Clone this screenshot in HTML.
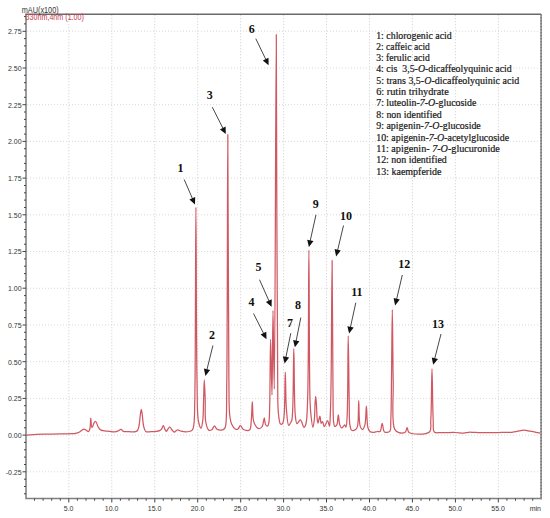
<!DOCTYPE html><html><head><meta charset="utf-8"><style>html,body{margin:0;padding:0;background:#fff;}svg{display:block;}</style></head><body>
<svg width="550" height="518" viewBox="0 0 550 518">
<rect width="550" height="518" fill="#fff"/>
<path d="M68.85 15.25V497.5M111.8 15.25V497.5M154.75 15.25V497.5M197.7 15.25V497.5M240.65 15.25V497.5M283.6 15.25V497.5M326.55 15.25V497.5M369.5 15.25V497.5M412.45 15.25V497.5M455.4 15.25V497.5M498.35 15.25V497.5" stroke="#cccccc" stroke-width="1" stroke-dasharray="1 2" fill="none"/>
<path d="M27 471.81H540.1M27 435.1H540.1M27 398.39H540.1M27 361.68H540.1M27 324.96H540.1M27 288.25H540.1M27 251.54H540.1M27 214.83H540.1M27 178.11H540.1M27 141.4H540.1M27 104.69H540.1M27 67.98H540.1M27 31.26H540.1" stroke="#d9d9d9" stroke-width="1" stroke-dasharray="1 2" fill="none"/>
<path d="M26.00 435.20C27.33 435.10 28.52 435.03 30.00 434.90C31.84 434.74 33.83 434.44 36.20 434.30C39.38 434.11 43.56 434.11 47.40 434.05C51.48 433.99 56.44 433.99 60.00 433.95C62.61 433.92 64.69 433.91 66.80 433.85C68.65 433.80 70.44 433.76 72.00 433.65C73.28 433.56 74.34 433.53 75.50 433.30C76.70 433.06 77.86 432.78 79.10 432.20C80.61 431.49 82.42 429.21 83.80 429.10C84.80 429.02 85.71 429.85 86.50 430.30C87.18 430.69 87.77 431.70 88.30 431.60C88.89 431.49 89.41 430.42 89.80 429.30C90.59 427.03 90.45 418.10 90.80 418.10C91.12 418.10 91.09 427.05 91.80 427.30C92.08 427.40 92.50 426.77 92.80 426.30C93.25 425.58 93.38 424.05 93.90 423.20C94.35 422.46 95.03 421.31 95.60 421.40C96.53 421.55 97.35 425.76 98.40 427.30C99.20 428.48 99.96 429.52 101.00 430.10C102.00 430.66 103.22 430.61 104.50 430.80C106.04 431.03 107.90 431.12 109.60 431.30C111.30 431.48 113.22 432.00 114.70 431.90C115.87 431.82 116.78 431.50 117.80 431.10C118.91 430.66 120.15 429.17 121.10 429.30C121.95 429.41 122.29 430.96 123.30 431.40C124.70 432.00 127.11 431.65 129.10 431.70C131.20 431.75 134.12 432.13 135.60 431.70C136.47 431.45 136.98 431.16 137.50 430.50C138.25 429.54 138.59 427.86 139.00 426.00C139.63 423.16 139.85 418.06 140.30 415.00C140.62 412.79 140.97 409.30 141.30 409.30C141.63 409.30 141.98 412.79 142.30 415.00C142.75 418.06 142.84 423.00 143.60 426.00C144.16 428.19 144.50 430.58 145.80 431.50C147.01 432.35 148.98 431.78 150.90 431.70C153.42 431.59 157.81 431.32 159.60 430.60C160.53 430.23 160.94 429.87 161.50 429.20C162.23 428.32 162.74 425.49 163.30 425.50C163.84 425.51 164.28 427.96 164.80 429.00C165.25 429.89 165.68 431.37 166.20 431.40C166.74 431.43 167.38 429.75 168.00 429.00C168.58 428.29 169.19 426.97 169.80 427.00C170.52 427.04 171.23 429.12 172.00 430.00C172.70 430.80 173.35 432.03 174.20 432.10C175.18 432.18 176.42 429.93 177.60 429.80C178.73 429.68 179.67 430.90 181.10 431.20C183.16 431.64 186.86 431.93 188.90 431.50C190.34 431.20 191.59 430.76 192.40 429.80C193.32 428.71 193.43 427.26 193.80 425.00C194.62 419.95 194.52 412.26 194.80 400.00C195.58 365.98 195.52 207.30 195.90 207.30C196.26 207.30 196.20 342.13 197.00 380.00C197.39 398.57 196.87 413.69 198.50 421.50C199.17 424.73 200.40 428.16 201.10 428.10C201.86 428.04 202.39 423.32 202.80 420.00C203.44 414.84 203.35 406.68 203.60 400.00C203.85 393.31 204.03 379.90 204.30 379.90C204.57 379.90 204.97 393.19 205.20 400.00C205.44 407.04 204.70 416.01 205.70 421.50C206.35 425.08 207.20 429.17 208.70 430.10C209.59 430.65 210.99 430.26 211.90 429.70C212.99 429.04 213.63 425.91 214.50 425.90C215.33 425.89 215.87 428.60 217.00 429.30C218.18 430.03 220.17 430.30 221.50 430.10C222.66 429.92 223.89 429.35 224.60 428.50C225.37 427.58 225.47 426.64 225.80 424.60C226.89 417.85 226.52 400.85 226.80 380.00C227.45 331.09 227.45 134.50 227.80 134.50C228.15 134.50 228.29 335.14 228.90 380.00C229.13 396.94 228.79 407.18 229.70 415.00C230.17 419.01 230.47 421.51 231.60 424.00C232.55 426.09 234.17 428.60 235.50 429.20C236.32 429.57 237.25 429.42 238.00 429.00C238.98 428.45 239.66 425.49 240.50 425.50C241.36 425.51 241.80 428.51 243.10 429.30C244.63 430.23 248.10 431.13 249.50 430.10C251.27 428.80 250.85 423.88 251.30 420.00C251.90 414.82 251.99 401.70 252.30 401.70C252.59 401.70 252.66 414.38 253.10 418.00C253.32 419.83 253.48 420.82 253.90 422.10C254.30 423.31 254.92 424.50 255.50 425.50C256.00 426.36 256.40 427.30 257.10 427.80C257.78 428.28 258.80 428.66 259.60 428.50C260.50 428.32 261.50 427.58 262.20 426.50C263.36 424.72 263.73 417.78 264.30 417.80C264.80 417.81 264.65 423.12 265.50 424.50C266.03 425.36 267.06 426.25 267.60 426.10C268.20 425.93 268.49 424.42 268.80 423.00C269.42 420.19 269.37 416.07 269.60 410.00C270.14 395.85 270.16 339.20 270.60 339.20C270.99 339.20 271.62 395.00 272.00 395.00C272.47 395.00 272.61 310.50 273.00 310.50C273.38 310.50 273.90 389.00 274.30 389.00C275.14 389.00 275.72 34.50 276.30 34.50C276.89 34.50 276.62 358.96 277.80 400.00C278.04 408.32 278.03 410.64 278.60 415.00C279.05 418.43 279.35 423.35 280.50 424.10C281.03 424.44 281.89 424.20 282.40 423.70C283.37 422.75 283.57 420.19 284.00 416.90C285.09 408.54 284.88 372.00 285.30 372.00C285.68 372.00 285.57 399.16 286.40 409.00C286.96 415.58 287.47 425.09 288.70 425.40C289.24 425.54 290.06 423.71 290.60 422.80C291.13 421.91 291.52 421.62 291.90 420.00C293.73 412.19 293.23 348.60 293.80 348.60C294.36 348.60 293.99 403.97 295.30 415.50C295.76 419.58 295.94 423.41 297.00 423.70C297.83 423.92 299.35 419.75 300.40 419.90C301.73 420.09 302.96 427.26 304.00 427.30C304.71 427.32 305.38 425.69 305.90 424.00C307.20 419.75 307.15 411.44 307.60 400.00C308.73 371.46 308.50 250.20 308.90 250.20C309.30 250.20 309.13 375.70 310.00 400.00C310.28 407.82 310.46 410.70 311.00 415.50C311.47 419.71 312.29 427.29 312.90 427.30C313.38 427.31 313.95 422.96 314.30 420.00C314.83 415.53 314.80 407.35 315.10 403.00C315.29 400.29 315.49 396.40 315.70 396.40C315.92 396.40 316.18 401.00 316.40 404.00C316.72 408.35 316.85 416.75 317.30 420.00C317.50 421.45 317.69 423.09 318.00 423.10C318.46 423.11 319.37 416.08 319.90 416.10C320.43 416.12 320.53 423.14 321.20 423.30C321.56 423.39 322.08 421.54 322.50 421.60C323.17 421.70 323.63 426.66 324.40 426.70C325.26 426.75 326.63 420.44 327.50 420.50C328.31 420.55 329.03 426.36 329.50 426.30C330.13 426.22 330.08 419.81 330.30 415.00C330.70 406.55 330.86 395.14 331.10 380.00C331.54 352.01 331.79 260.40 332.10 260.40C332.42 260.40 332.63 361.38 333.00 390.00C333.18 404.18 332.86 415.98 333.60 421.80C333.89 424.04 334.00 426.14 334.70 426.40C335.22 426.59 336.25 425.80 336.80 424.90C337.89 423.11 337.80 414.80 338.30 414.80C338.80 414.80 338.95 422.56 339.80 424.90C340.31 426.30 341.01 427.92 341.70 428.00C342.29 428.07 343.04 426.66 343.60 426.10C344.05 425.65 344.43 424.84 344.80 424.90C345.25 424.97 345.67 427.26 346.00 427.20C346.72 427.06 346.88 420.85 347.20 415.00C348.02 400.13 347.85 335.80 348.20 335.80C348.52 335.80 348.84 383.58 349.20 400.00C349.42 410.23 348.98 419.67 349.90 424.90C350.34 427.40 350.58 429.65 351.70 430.30C352.64 430.84 354.63 430.18 355.60 429.50C356.53 428.85 357.00 428.03 357.50 426.40C358.84 422.04 358.25 400.50 358.70 400.50C359.15 400.50 358.63 422.06 360.20 426.40C360.81 428.07 361.77 429.56 362.50 429.50C363.35 429.43 364.28 427.04 364.90 424.90C366.08 420.81 365.90 406.00 366.40 406.00C366.94 406.00 366.66 423.78 368.00 428.00C368.60 429.89 369.22 431.10 370.30 431.80C371.30 432.45 372.90 432.37 374.10 432.30C375.19 432.23 376.18 431.65 377.20 431.50C378.18 431.36 379.34 432.01 380.10 431.40C381.39 430.36 381.48 423.30 382.20 423.30C382.95 423.30 382.88 430.89 384.50 432.00C385.74 432.84 388.57 432.56 389.70 431.40C391.38 429.69 390.52 424.96 390.80 420.00C391.33 410.73 391.28 395.21 391.50 380.00C391.79 359.83 392.02 309.60 392.30 309.60C392.58 309.60 392.76 358.64 393.20 380.00C393.57 397.84 391.24 422.39 394.60 429.10C395.74 431.37 397.28 432.09 399.00 432.60C400.84 433.15 404.06 433.01 405.40 432.00C406.54 431.15 406.51 427.70 407.10 427.70C407.74 427.70 407.49 431.55 409.10 432.60C412.25 434.65 426.11 435.01 429.40 432.00C431.94 429.67 430.42 425.40 430.80 420.00C431.58 408.88 431.60 368.80 432.00 368.80C432.40 368.80 432.56 408.87 433.20 420.00C433.51 425.40 432.52 430.17 434.30 432.00C435.53 433.27 437.63 432.57 440.00 432.70C443.86 432.91 450.99 432.37 455.30 432.50C458.46 432.59 461.09 433.20 463.50 433.10C465.41 433.02 466.99 432.43 468.60 432.30C470.04 432.19 471.14 432.26 472.70 432.30C474.79 432.36 477.05 432.63 480.00 432.70C484.54 432.81 492.68 432.67 497.30 432.60C500.38 432.55 502.55 432.45 505.00 432.40C507.23 432.35 509.34 432.48 511.40 432.30C513.34 432.13 515.03 431.73 517.00 431.40C519.20 431.03 521.76 430.21 524.00 430.20C526.08 430.20 528.00 430.85 530.00 431.20C532.00 431.55 534.16 431.94 536.00 432.30C537.58 432.61 538.93 432.90 540.40 433.20" fill="none" stroke="#d05862" stroke-width="1.25" stroke-linejoin="round"/>
<path d="M25.1 14.25H541.1" fill="none" stroke="#6a6a6a" stroke-width="1.4"/>
<path d="M26 14.25V498.5H541.1" fill="none" stroke="#808080" stroke-width="1.55"/>
<path d="M541.1 14.25V499.4" fill="none" stroke="#9a9a9a" stroke-width="1.8"/>
<path d="M541.1 14.25V498.5" fill="none" stroke="#747474" stroke-width="1.8" stroke-dasharray="1 2"/>
<path d="M24 493.8H26M24 486.5H26M24 479.2H26M22.5 471.8H26M24 464.5H26M24 457.1H26M24 449.8H26M24 442.4H26M22.5 435.1H26M24 427.8H26M24 420.4H26M24 413.1H26M24 405.7H26M22.5 398.4H26M24 391.0H26M24 383.7H26M24 376.4H26M24 369.0H26M22.5 361.7H26M24 354.3H26M24 347.0H26M24 339.6H26M24 332.3H26M22.5 325.0H26M24 317.6H26M24 310.3H26M24 302.9H26M24 295.6H26M22.5 288.2H26M24 280.9H26M24 273.6H26M24 266.2H26M24 258.9H26M22.5 251.5H26M24 244.2H26M24 236.9H26M24 229.5H26M24 222.2H26M22.5 214.8H26M24 207.5H26M24 200.1H26M24 192.8H26M24 185.5H26M22.5 178.1H26M24 170.8H26M24 163.4H26M24 156.1H26M24 148.7H26M22.5 141.4H26M24 134.1H26M24 126.7H26M24 119.4H26M24 112.0H26M22.5 104.7H26M24 97.3H26M24 90.0H26M24 82.7H26M24 75.3H26M22.5 68.0H26M24 60.6H26M24 53.3H26M24 45.9H26M24 38.6H26M22.5 31.3H26M24 23.9H26M24 16.6H26M34.5 498.5V500.7M43.1 498.5V500.7M51.7 498.5V500.7M60.3 498.5V500.7M68.8 498.5V502.5M77.4 498.5V500.7M86.0 498.5V500.7M94.6 498.5V500.7M103.2 498.5V500.7M111.8 498.5V502.5M120.4 498.5V500.7M129.0 498.5V500.7M137.6 498.5V500.7M146.2 498.5V500.7M154.8 498.5V502.5M163.3 498.5V500.7M171.9 498.5V500.7M180.5 498.5V500.7M189.1 498.5V500.7M197.7 498.5V502.5M206.3 498.5V500.7M214.9 498.5V500.7M223.5 498.5V500.7M232.1 498.5V500.7M240.7 498.5V502.5M249.2 498.5V500.7M257.8 498.5V500.7M266.4 498.5V500.7M275.0 498.5V500.7M283.6 498.5V502.5M292.2 498.5V500.7M300.8 498.5V500.7M309.4 498.5V500.7M318.0 498.5V500.7M326.5 498.5V502.5M335.1 498.5V500.7M343.7 498.5V500.7M352.3 498.5V500.7M360.9 498.5V500.7M369.5 498.5V502.5M378.1 498.5V500.7M386.7 498.5V500.7M395.3 498.5V500.7M403.9 498.5V500.7M412.4 498.5V502.5M421.0 498.5V500.7M429.6 498.5V500.7M438.2 498.5V500.7M446.8 498.5V500.7M455.4 498.5V502.5M464.0 498.5V500.7M472.6 498.5V500.7M481.2 498.5V500.7M489.8 498.5V500.7M498.3 498.5V502.5M506.9 498.5V500.7M515.5 498.5V500.7M524.1 498.5V500.7M532.7 498.5V500.7" stroke="#444" stroke-width="1" fill="none"/>
<text transform="translate(21.6 474.66) scale(1 1.15)" text-anchor="end" font-family="Liberation Sans" font-size="7" fill="#333">-0.25</text>
<text transform="translate(21.6 437.95) scale(1 1.15)" text-anchor="end" font-family="Liberation Sans" font-size="7" fill="#333">0.00</text>
<text transform="translate(21.6 401.24) scale(1 1.15)" text-anchor="end" font-family="Liberation Sans" font-size="7" fill="#333">0.25</text>
<text transform="translate(21.6 364.53) scale(1 1.15)" text-anchor="end" font-family="Liberation Sans" font-size="7" fill="#333">0.50</text>
<text transform="translate(21.6 327.81) scale(1 1.15)" text-anchor="end" font-family="Liberation Sans" font-size="7" fill="#333">0.75</text>
<text transform="translate(21.6 291.10) scale(1 1.15)" text-anchor="end" font-family="Liberation Sans" font-size="7" fill="#333">1.00</text>
<text transform="translate(21.6 254.39) scale(1 1.15)" text-anchor="end" font-family="Liberation Sans" font-size="7" fill="#333">1.25</text>
<text transform="translate(21.6 217.68) scale(1 1.15)" text-anchor="end" font-family="Liberation Sans" font-size="7" fill="#333">1.50</text>
<text transform="translate(21.6 180.96) scale(1 1.15)" text-anchor="end" font-family="Liberation Sans" font-size="7" fill="#333">1.75</text>
<text transform="translate(21.6 144.25) scale(1 1.15)" text-anchor="end" font-family="Liberation Sans" font-size="7" fill="#333">2.00</text>
<text transform="translate(21.6 107.54) scale(1 1.15)" text-anchor="end" font-family="Liberation Sans" font-size="7" fill="#333">2.25</text>
<text transform="translate(21.6 70.83) scale(1 1.15)" text-anchor="end" font-family="Liberation Sans" font-size="7" fill="#333">2.50</text>
<text transform="translate(21.6 34.11) scale(1 1.15)" text-anchor="end" font-family="Liberation Sans" font-size="7" fill="#333">2.75</text>
<text transform="translate(68.65 510.7) scale(1 1.15)" text-anchor="middle" font-family="Liberation Sans" font-size="7" fill="#333">5.0</text>
<text transform="translate(111.60 510.7) scale(1 1.15)" text-anchor="middle" font-family="Liberation Sans" font-size="7" fill="#333">10.0</text>
<text transform="translate(154.55 510.7) scale(1 1.15)" text-anchor="middle" font-family="Liberation Sans" font-size="7" fill="#333">15.0</text>
<text transform="translate(197.50 510.7) scale(1 1.15)" text-anchor="middle" font-family="Liberation Sans" font-size="7" fill="#333">20.0</text>
<text transform="translate(240.45 510.7) scale(1 1.15)" text-anchor="middle" font-family="Liberation Sans" font-size="7" fill="#333">25.0</text>
<text transform="translate(283.40 510.7) scale(1 1.15)" text-anchor="middle" font-family="Liberation Sans" font-size="7" fill="#333">30.0</text>
<text transform="translate(326.35 510.7) scale(1 1.15)" text-anchor="middle" font-family="Liberation Sans" font-size="7" fill="#333">35.0</text>
<text transform="translate(369.30 510.7) scale(1 1.15)" text-anchor="middle" font-family="Liberation Sans" font-size="7" fill="#333">40.0</text>
<text transform="translate(412.25 510.7) scale(1 1.15)" text-anchor="middle" font-family="Liberation Sans" font-size="7" fill="#333">45.0</text>
<text transform="translate(455.20 510.7) scale(1 1.15)" text-anchor="middle" font-family="Liberation Sans" font-size="7" fill="#333">50.0</text>
<text transform="translate(498.15 510.7) scale(1 1.15)" text-anchor="middle" font-family="Liberation Sans" font-size="7" fill="#333">55.0</text>
<text transform="translate(541 510.7) scale(1 1.15)" text-anchor="end" font-family="Liberation Sans" font-size="7" fill="#333">min</text>
<text transform="translate(21.7 12.9) scale(1 1.15)" font-family="Liberation Sans" font-size="7.2" fill="#333" textLength="37" lengthAdjust="spacingAndGlyphs">mAU(x100)</text>
<text transform="translate(25.6 20.2) scale(1 1.15)" font-family="Liberation Sans" font-size="7.15" fill="#c83c50">330nm,4nm (1.00)</text>
<path d="M184.2 179.5L192.5 198.7" stroke="#484848" stroke-width="1"/>
<path d="M195.0 204.5L189.4 199.5L195.2 197.0Z" fill="#111"/>
<path d="M212.9 345.5L206.9 369.8" stroke="#484848" stroke-width="1"/>
<path d="M205.4 375.9L203.9 368.5L210.1 370.1Z" fill="#111"/>
<path d="M212.3 107.2L223.0 128.4" stroke="#484848" stroke-width="1"/>
<path d="M225.8 134.0L219.9 129.4L225.6 126.5Z" fill="#111"/>
<path d="M253.5 313.5L263.7 333.6" stroke="#484848" stroke-width="1"/>
<path d="M266.5 339.2L260.6 334.6L266.3 331.7Z" fill="#111"/>
<path d="M259.5 279.7L269.0 301.0" stroke="#484848" stroke-width="1"/>
<path d="M271.6 306.8L265.9 301.9L271.7 299.3Z" fill="#111"/>
<path d="M255.8 38.7L265.9 59.6" stroke="#484848" stroke-width="1"/>
<path d="M268.6 65.3L262.8 60.6L268.5 57.8Z" fill="#111"/>
<path d="M290.8 333.2L285.9 357.3" stroke="#484848" stroke-width="1"/>
<path d="M284.6 363.5L282.8 356.2L289.1 357.5Z" fill="#111"/>
<path d="M300.8 317.6L296.1 341.1" stroke="#484848" stroke-width="1"/>
<path d="M294.9 347.3L293.1 340.0L299.4 341.3Z" fill="#111"/>
<path d="M316.0 214.7L310.2 240.9" stroke="#484848" stroke-width="1"/>
<path d="M308.9 247.1L307.2 239.8L313.5 241.1Z" fill="#111"/>
<path d="M343.5 225.5L337.6 250.3" stroke="#484848" stroke-width="1"/>
<path d="M336.1 256.4L334.6 249.0L340.8 250.5Z" fill="#111"/>
<path d="M355.8 302.7L350.4 327.4" stroke="#484848" stroke-width="1"/>
<path d="M349.1 333.6L347.4 326.3L353.7 327.6Z" fill="#111"/>
<path d="M402.3 275.0L396.6 299.3" stroke="#484848" stroke-width="1"/>
<path d="M395.1 305.4L393.6 298.0L399.8 299.5Z" fill="#111"/>
<path d="M441.0 334.0L434.7 358.7" stroke="#484848" stroke-width="1"/>
<path d="M433.2 364.8L431.8 357.4L438.0 359.0Z" fill="#111"/>
<text transform="translate(180.4 171.90) scale(1 1.07)" text-anchor="middle" font-family="Liberation Serif" font-weight="bold" font-size="12" fill="#111">1</text>
<text transform="translate(212.1 338.60) scale(1 1.07)" text-anchor="middle" font-family="Liberation Serif" font-weight="bold" font-size="12" fill="#111">2</text>
<text transform="translate(209.8 98.70) scale(1 1.07)" text-anchor="middle" font-family="Liberation Serif" font-weight="bold" font-size="12" fill="#111">3</text>
<text transform="translate(251.4 306.10) scale(1 1.07)" text-anchor="middle" font-family="Liberation Serif" font-weight="bold" font-size="12" fill="#111">4</text>
<text transform="translate(258.4 270.70) scale(1 1.07)" text-anchor="middle" font-family="Liberation Serif" font-weight="bold" font-size="12" fill="#111">5</text>
<text transform="translate(251.8 32.80) scale(1 1.07)" text-anchor="middle" font-family="Liberation Serif" font-weight="bold" font-size="12" fill="#111">6</text>
<text transform="translate(290 327.40) scale(1 1.07)" text-anchor="middle" font-family="Liberation Serif" font-weight="bold" font-size="12" fill="#111">7</text>
<text transform="translate(298.1 309.30) scale(1 1.07)" text-anchor="middle" font-family="Liberation Serif" font-weight="bold" font-size="12" fill="#111">8</text>
<text transform="translate(315.7 207.80) scale(1 1.07)" text-anchor="middle" font-family="Liberation Serif" font-weight="bold" font-size="12" fill="#111">9</text>
<text transform="translate(346 219.50) scale(1 1.07)" text-anchor="middle" font-family="Liberation Serif" font-weight="bold" font-size="12" fill="#111">10</text>
<text transform="translate(356.8 296.40) scale(1 1.07)" text-anchor="middle" font-family="Liberation Serif" font-weight="bold" font-size="12" fill="#111">11</text>
<text transform="translate(404.3 268.10) scale(1 1.07)" text-anchor="middle" font-family="Liberation Serif" font-weight="bold" font-size="12" fill="#111">12</text>
<text transform="translate(438.1 328.10) scale(1 1.07)" text-anchor="middle" font-family="Liberation Serif" font-weight="bold" font-size="12" fill="#111">13</text>
<text x="376.2" y="38.65" font-family="Liberation Serif" font-size="9.4" fill="#1a1a1a" stroke="#1a1a1a" stroke-width="0.2" textLength="75.6" lengthAdjust="spacingAndGlyphs">1: chlorogenic acid</text>
<text x="376.2" y="49.65" font-family="Liberation Serif" font-size="9.4" fill="#1a1a1a" stroke="#1a1a1a" stroke-width="0.2" textLength="53.6" lengthAdjust="spacingAndGlyphs">2: caffeic acid</text>
<text x="376.2" y="60.95" font-family="Liberation Serif" font-size="9.4" fill="#1a1a1a" stroke="#1a1a1a" stroke-width="0.2" textLength="53.6" lengthAdjust="spacingAndGlyphs">3: ferulic acid</text>
<text x="376.2" y="72.25" font-family="Liberation Serif" font-size="9.4" fill="#1a1a1a" stroke="#1a1a1a" stroke-width="0.2" textLength="135.6" lengthAdjust="spacingAndGlyphs">4: cis&#160; 3,5-<tspan font-style='italic'>O</tspan>-dicaffeolyquinic acid</text>
<text x="376.2" y="83.85" font-family="Liberation Serif" font-size="9.4" fill="#1a1a1a" stroke="#1a1a1a" stroke-width="0.2" textLength="143.0" lengthAdjust="spacingAndGlyphs">5: trans 3,5-<tspan font-style='italic'>O</tspan>-dicaffeolyquinic acid</text>
<text x="376.2" y="94.65" font-family="Liberation Serif" font-size="9.4" fill="#1a1a1a" stroke="#1a1a1a" stroke-width="0.2" textLength="72.6" lengthAdjust="spacingAndGlyphs">6: rutin trihydrate</text>
<text x="376.2" y="106.35" font-family="Liberation Serif" font-size="9.4" fill="#1a1a1a" stroke="#1a1a1a" stroke-width="0.2" textLength="100.19999999999999" lengthAdjust="spacingAndGlyphs">7: luteolin-<tspan font-style='italic'>7-O</tspan>-glucoside</text>
<text x="376.2" y="117.75" font-family="Liberation Serif" font-size="9.4" fill="#1a1a1a" stroke="#1a1a1a" stroke-width="0.2" textLength="65.6" lengthAdjust="spacingAndGlyphs">8: non identified</text>
<text x="376.2" y="129.15" font-family="Liberation Serif" font-size="9.4" fill="#1a1a1a" stroke="#1a1a1a" stroke-width="0.2" textLength="104.6" lengthAdjust="spacingAndGlyphs">9: apigenin-<tspan font-style='italic'>7-O</tspan>-glucoside</text>
<text x="376.2" y="140.55" font-family="Liberation Serif" font-size="9.4" fill="#1a1a1a" stroke="#1a1a1a" stroke-width="0.2" textLength="133.0" lengthAdjust="spacingAndGlyphs">10: apigenin-<tspan font-style='italic'>7-O</tspan>-acetylglucoside</text>
<text x="376.2" y="151.95" font-family="Liberation Serif" font-size="9.4" fill="#1a1a1a" stroke="#1a1a1a" stroke-width="0.2" textLength="123.6" lengthAdjust="spacingAndGlyphs">11: apigenin- <tspan font-style='italic'>7-O</tspan>-glucuronide</text>
<text x="376.2" y="163.15" font-family="Liberation Serif" font-size="9.4" fill="#1a1a1a" stroke="#1a1a1a" stroke-width="0.2" textLength="70.6" lengthAdjust="spacingAndGlyphs">12: non identified</text>
<text x="376.2" y="174.55" font-family="Liberation Serif" font-size="9.4" fill="#1a1a1a" stroke="#1a1a1a" stroke-width="0.2" textLength="65.19999999999999" lengthAdjust="spacingAndGlyphs">13: kaempferide</text>
</svg></body></html>
